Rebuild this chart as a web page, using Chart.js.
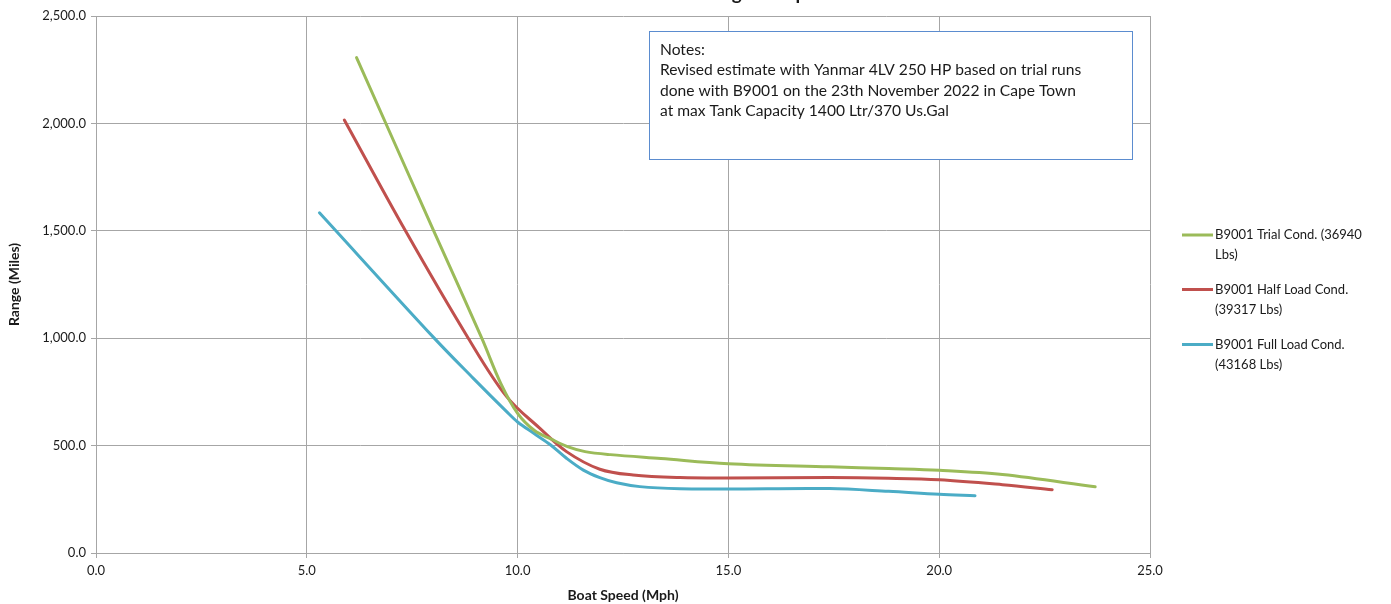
<!DOCTYPE html>
<html>
<head>
<meta charset="utf-8">
<script src="https://cdn.jsdelivr.net/npm/chart.js@4/dist/chart.umd.min.js"></script>
<style>
html,body{margin:0;padding:0;background:#fff;}
#wrap{width:1391px;height:604px;position:relative;}
</style>
</head>
<body>
<div id="wrap"><canvas id="c" width="1391" height="604"></canvas></div>
<script>
const chartTitle = "B9001 Range Comparison";
const xAxisTitle = "Boat Speed (Mph)";
const yAxisTitle = "Range (Miles)";
const notesLines = [
  "Notes:",
  "Revised estimate with Yanmar 4LV 250 HP based on trial runs",
  "done with B9001 on the 23th November 2022 in Cape Town",
  "at max Tank Capacity 1400 Ltr/370 Us.Gal"
];
const seriesLabels = [
  ["B9001 Trial Cond. (36940", "Lbs)"],
  ["B9001 Half Load Cond.", "(39317 Lbs)"],
  ["B9001 Full Load Cond.", "(43168 Lbs)"]
];
const seriesColors = ["#9bbb59", "#c0504d", "#4bacc6"];

const trialSpeed = [6.18, 8.01, 9.15, 9.6, 10.0, 10.4, 10.8, 11.2, 11.6, 12.2, 13.4, 15.0, 17.4, 18.8, 20.0, 21.5, 23.7];
const trialRange = [2306, 1500, 1000, 790, 650, 570, 530, 494, 472, 458, 440, 416, 401, 393, 385, 365, 308];

const halfSpeed = [5.89, 7.34, 8.83, 9.74, 10.53, 11.16, 11.95, 12.74, 13.85, 15.0, 17.4, 18.8, 20.0, 21.5, 22.68];
const halfRange = [2016, 1500, 1000, 728, 580, 472, 390, 363, 351, 349, 351, 348, 341, 318, 295];

const fullSpeed = [5.3, 8.0, 8.95, 9.74, 10.0, 10.4, 10.77, 11.16, 11.56, 11.95, 12.35, 12.9, 13.85, 15.0, 17.4, 18.8, 20.0, 20.85];
const fullRange = [1584, 1005, 813, 658, 610, 555, 505, 441, 386, 351, 327, 309, 299, 298, 300, 287, 273, 267];

const xTicks = [0, 5, 10, 15, 20, 25];
const yTicks = [0, 500, 1000, 1500, 2000, 2500];

function pts(xs, ys){ return xs.map((x,i)=>({x:x, y:ys[i]})); }

const FONT = "Lato, 'Open Sans', 'DejaVu Sans', sans-serif";
const TXT = "#1a1a1a";
const GRID = "#a6a6a6";

const overlayPlugin = {
  id: 'overlay',
  afterDraw(chart){
    const ctx = chart.ctx;
    ctx.save();
    // title (clipped by the top edge, as in the reference)
    ctx.font = "bold 19px " + FONT;
    ctx.fillStyle = TXT;
    ctx.textAlign = "center";
    ctx.textBaseline = "alphabetic";
    ctx.fillText(chartTitle, 748, 0);

    // notes box
    const bx = 649.5, by = 31.5, bw = 483, bh = 128;
    ctx.fillStyle = "#ffffff";
    ctx.fillRect(bx, by, bw, bh);
    ctx.strokeStyle = "#5b8ccf";
    ctx.lineWidth = 1;
    ctx.strokeRect(bx, by, bw, bh);
    ctx.fillStyle = TXT;
    ctx.textAlign = "left";
    ctx.textBaseline = "alphabetic";
    ctx.font = "15.6px " + FONT;
    notesLines.forEach((t, i) => ctx.fillText(t, 660, 55 + i * 20.3));

    // legend
    ctx.font = "13px " + FONT;
    ctx.textBaseline = "middle";
    const ys = [235, 289.5, 344.5];
    chart.data.datasets.forEach((ds, i) => {
      const y = ys[i];
      ctx.strokeStyle = ds.borderColor;
      ctx.lineWidth = 3;
      ctx.beginPath();
      ctx.moveTo(1182, y);
      ctx.lineTo(1213, y);
      ctx.stroke();
      ctx.fillStyle = TXT;
      seriesLabels[i].forEach((t, j) => ctx.fillText(t, 1215, y + j * 20));
    });
    ctx.restore();
  }
};

const fmt = v => Number(v).toLocaleString('en-US', {minimumFractionDigits:1, maximumFractionDigits:1});

new Chart(document.getElementById('c'), {
  type: 'line',
  data: {
    datasets: [
      {label: seriesLabels[0].join(' '), data: pts(trialSpeed, trialRange), borderColor: seriesColors[0]},
      {label: seriesLabels[1].join(' '), data: pts(halfSpeed, halfRange), borderColor: seriesColors[1]},
      {label: seriesLabels[2].join(' '), data: pts(fullSpeed, fullRange), borderColor: seriesColors[2]}
    ]
  },
  options: {
    responsive: false,
    animation: false,
    layout: {padding: {left: 0, right: 241, top: 16, bottom: 0}},
    elements: {
      line: {borderWidth: 3, tension: 0.35, fill: false, capBezierPoints: true, borderCapStyle: 'round', borderJoinStyle: 'round'},
      point: {radius: 0, hoverRadius: 0}
    },
    plugins: {legend: {display: false}, tooltip: {enabled: false}, title: {display: false}},
    scales: {
      x: {
        type: 'linear', min: 0, max: 25,
        afterBuildTicks: s => { s.ticks = xTicks.map(v => ({value: v})); },
        afterFit: s => { s.height = 51; },
        grid: {color: GRID, lineWidth: 1, tickLength: 5, drawTicks: true},
        border: {color: GRID, width: 1},
        ticks: {padding: 5, color: TXT, font: {family: FONT, size: 13}, callback: v => fmt(v), maxRotation: 0},
        title: {display: true, text: xAxisTitle, color: TXT, font: {family: FONT, size: 14, weight: 'bold'}, padding: {top: 0, bottom: 0}}
      },
      y: {
        type: 'linear', min: 0, max: 2500,
        afterBuildTicks: s => { s.ticks = yTicks.map(v => ({value: v})); },
        afterFit: s => { s.width = 96; },
        grid: {color: GRID, lineWidth: 1, tickLength: 5, drawTicks: true},
        border: {color: GRID, width: 1},
        ticks: {padding: 5, color: TXT, font: {family: FONT, size: 13}, callback: v => fmt(v)},
        title: {display: true, text: yAxisTitle, color: TXT, font: {family: FONT, size: 14, weight: 'bold'}, padding: {top: 6, bottom: 0}}
      }
    }
  },
  plugins: [overlayPlugin]
});
</script>
</body>
</html>
